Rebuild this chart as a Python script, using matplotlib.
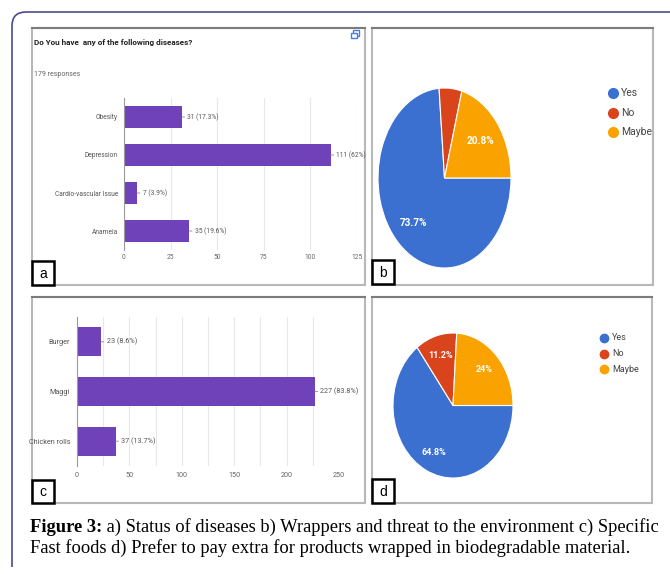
import matplotlib
matplotlib.use("Agg")
import matplotlib.pyplot as plt
from matplotlib.patches import Rectangle, PathPatch
from matplotlib.path import Path

# Survey results
diseases = ["Obesity", "Depression", "Cardio-vascular Issue", "Anameia"]
disease_counts = [31, 111, 7, 35]
disease_pct = ["17.3%", "62%", "3.9%", "19.6%"]

foods = ["Burger", "Maggi", "Chicken rolls"]
food_counts = [23, 227, 37]
food_pct = ["8.6%", "83.8%", "13.7%"]

answers = ["Yes", "No", "Maybe"]
wrapper_share = [73.7, 5.5, 20.8]
extra_pay_share = [64.8, 11.2, 24.0]

caption_bold = "Figure 3:"
caption_1 = " a) Status of diseases b) Wrappers and threat to the environment c) Specific"
caption_2 = "Fast foods d) Prefer to pay extra for products wrapped in biodegradable material."

W, H = 670, 574
PURPLE = "#6f42ba"
PIE_COLORS = ["#3b6fd0", "#d9441c", "#f9a200"]
NARROW = ["Liberation Sans Narrow", "Roboto", "DejaVu Sans"]

fig = plt.figure(figsize=(W / 100, H / 100), dpi=100)


def px_axes(x0, y0, x1, y1, z=1):
    # axes placed in pixel coords (origin top-left)
    return fig.add_axes([x0 / W, 1 - y1 / H, (x1 - x0) / W, (y1 - y0) / H], zorder=z)


# full-size overlay for frames, legends and caption
ov = px_axes(0, 0, W, H, z=0)
ov.set_xlim(0, W)
ov.set_ylim(H, 0)
ov.axis("off")

# outer rounded frame
frame = Path([(12, 567), (12, 26), (12, 12), (26, 12), (680, 12)],
             [Path.MOVETO, Path.LINETO, Path.CURVE3, Path.CURVE3, Path.LINETO])
ov.add_patch(PathPatch(frame, fill=False, edgecolor="#4a4a8c", lw=1.2))


def panel(x0, y0, x1, y1, letter, ly0, ly1):
    ov.add_patch(Rectangle((x0, y0), x1 - x0, y1 - y0, facecolor="white",
                           edgecolor="#b8b8b8", lw=1.5))
    ov.plot([x0, x1], [y0, y0], color="#7c7c7c", lw=1.5)
    ov.add_patch(Rectangle((x0, ly0), 22, ly1 - ly0, facecolor="white",
                           edgecolor="black", lw=1.8, zorder=5))
    ov.text(x0 + 11, (ly0 + ly1) / 2 + 1, letter, ha="center", va="center",
            fontsize=10, family=["Liberation Sans", "DejaVu Sans"], zorder=6)


panel(32, 28, 365, 285, "a", 261, 285)
panel(372, 28, 653, 285, "b", 260, 284)
panel(32, 297, 365, 503, "c", 480, 503)
panel(372, 297, 652, 503, "d", 479, 503)

# panel a header
ov.text(34, 43, "Do You have  any of the following diseases?", fontsize=5.9,
        fontweight="bold", family=NARROW, color="#222", va="center")
ov.text(34, 75, "179 responses", fontsize=5, family=NARROW, color="#666",
        va="center")
ov.add_patch(Rectangle((353, 30), 6, 6, fill=False, edgecolor="#4a7fe0", lw=1))
ov.add_patch(Rectangle((351, 33), 6, 5, facecolor="white", edgecolor="#4a7fe0",
                       lw=1))


def bar_panel(ax, cats, counts, pcts, xmax, step, bar_h, fs, ypad, xpad):
    pos = list(range(len(cats)))
    ax.set_facecolor("none")
    ax.barh(pos, counts, height=bar_h, color=PURPLE, zorder=3)
    ax.set_xlim(0, xmax)
    ax.set_ylim(len(cats) - 0.5, -0.5)
    ax.set_yticks(pos)
    ax.set_yticklabels(cats, fontsize=fs, color="#555", family=NARROW)
    ax.set_xticks(range(0, xmax + 1, step))
    ax.set_xticks(range(0, xmax + 1, 25), minor=True)
    for lab in ax.get_xticklabels():
        lab.set_family(NARROW)
    ax.tick_params(axis="x", which="both", length=0, labelsize=fs,
                   labelcolor="#666", pad=xpad)
    ax.tick_params(axis="y", length=0, pad=ypad)
    ax.grid(axis="x", which="both", color="#e8e8e8", lw=0.8, zorder=0)
    for s in ["top", "right", "bottom"]:
        ax.spines[s].set_visible(False)
    ax.spines["left"].set_color("#9a9a9a")
    ax.spines["left"].set_zorder(4)
    for p, c, pc in zip(pos, counts, pcts):
        ax.annotate(f"{c} ({pc})", xy=(c, p), xytext=(4, 0),
                    textcoords="offset points", va="center", fontsize=fs,
                    color="#555", family=NARROW,
                    arrowprops=dict(arrowstyle="-", color="#888", lw=0.6,
                                    shrinkA=0, shrinkB=0))


ax_a = px_axes(124, 98, 357, 250)
bar_panel(ax_a, diseases, disease_counts, disease_pct, 125, 25, 0.6, 4.8, 4.3, 3)

ax_c = px_axes(77, 317, 339, 466)
bar_panel(ax_c, foods, food_counts, food_pct, 250, 50, 0.58, 5.2, 5, 4.5)


def pie_panel(ax, shares, pctdist, fs):
    ax.pie(shares, colors=PIE_COLORS, startangle=0, counterclock=False,
           autopct=lambda v: f"{round(v, 1):g}%" if v >= 6 else "",
           pctdistance=pctdist,
           wedgeprops=dict(edgecolor="white", lw=0.8),
           textprops=dict(color="white", fontsize=fs, fontweight="bold",
                          family=NARROW))
    ax.set_aspect("auto")
    ax.set_xlim(-1, 1)
    ax.set_ylim(-1, 1)


def pie_legend(x, y0, dy, ms, fs):
    for i, (name, col) in enumerate(zip(answers, PIE_COLORS)):
        ov.plot(x, y0 + i * dy, "o", ms=ms, color=col)
        ov.text(x + 8, y0 + i * dy, name, va="center", fontsize=fs,
                family=NARROW, color="#444")


ax_b = px_axes(378, 88, 511, 268)
pie_panel(ax_b, wrapper_share, 0.68, 7.2)
pie_legend(613, 93, 19.5, 7, 7.5)

ax_d = px_axes(393, 333, 513, 478)
pie_panel(ax_d, extra_pay_share, 0.72, 6.5)
pie_legend(604, 338, 15.5, 6, 6.5)

# caption
serif = ["Liberation Serif", "DejaVu Serif"]
t1 = ov.text(30, 532, caption_bold, fontsize=13.3, fontweight="bold",
             family=serif, va="baseline")
ov.annotate(caption_1, xy=(1, 0), xycoords=t1, va="bottom", ha="left",
            fontsize=13.3, family=serif)
ov.text(30, 553, caption_2, fontsize=13.3, family=serif, va="baseline")

fig.savefig("out.png", dpi=100)
